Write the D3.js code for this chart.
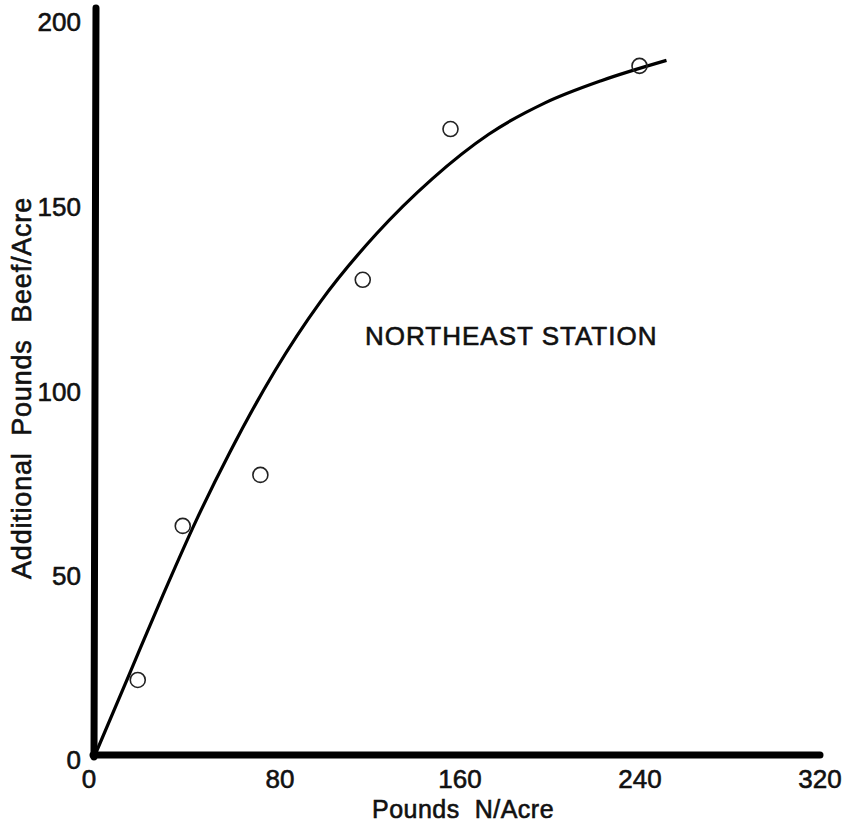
<!DOCTYPE html>
<html>
<head>
<meta charset="utf-8">
<style>
  body { margin: 0; background: #fff; }
  svg text { font-family: "Liberation Sans", Arial, sans-serif; fill: #111; stroke: #111; stroke-width: 0.6px; }
</style>
</head>
<body>
<svg id="chart"></svg>
<script src="https://d3js.org/d3.v7.min.js"></script>
<script>
  // observed points (lb N/acre, additional lb beef/acre)
  const obsN = [19, 39, 73.5, 119, 158, 242];
  const obsBeef = [20.3, 62, 75.8, 128.6, 169.4, 186.5];

  // fitted response curve
  const curveN = [0, 15, 30, 45, 60, 80, 100, 125, 150, 175, 200, 225, 254];
  const curveBeef = [0, 21.5, 43, 63.5, 82, 104, 122.5, 141, 156, 168, 176.5, 182.5, 188];

  const xTicks = [0, 80, 160, 240, 320];
  const yTicks = [0, 50, 100, 150, 200];

  const width = 849, height = 825;

  const svg = d3.select('#chart')
      .attr('width', width)
      .attr('height', height);

  const x = d3.scaleLinear().domain([0, 320]).range([95, 815]);
  const y = d3.scaleLinear().domain([0, 200]).range([755, 16]);

  // axes drawn as heavy lines
  svg.append('line')
      .attr('x1', x(0) - 2).attr('x2', x(320) + 5)
      .attr('y1', y(0)).attr('y2', y(0))
      .attr('stroke', '#000').attr('stroke-width', 7).attr('stroke-linecap', 'round');
  svg.append('line')
      .attr('x1', x(0) - 1).attr('x2', x(0) + 1)
      .attr('y1', y(0) + 2).attr('y2', y(200) - 8)
      .attr('stroke', '#000').attr('stroke-width', 7).attr('stroke-linecap', 'round');

  // tick labels
  svg.append('g').selectAll('text')
      .data(xTicks)
      .join('text')
      .attr('x', d => d === 0 ? x(d) - 6 : x(d) + 5)
      .attr('y', 788)
      .attr('text-anchor', 'middle')
      .style('font-size', '26px')
      .text(d => d);

  svg.append('g').selectAll('text')
      .data(yTicks)
      .join('text')
      .attr('x', 81)
      .attr('y', d => y(d) + (d === 0 ? 14 : 15))
      .attr('text-anchor', 'end')
      .style('font-size', '26px')
      .text(d => d);

  // axis titles
  svg.append('text')
      .attr('x', 463).attr('y', 818)
      .attr('text-anchor', 'middle')
      .style('font-size', '25px')
      .style('letter-spacing', '0.5px')
      .style('white-space', 'pre')
      .text('Pounds  N/Acre');

  svg.append('text')
      .attr('transform', 'translate(31,388) rotate(-90)')
      .attr('text-anchor', 'middle')
      .style('font-size', '27px')
      .style('letter-spacing', '0.8px')
      .style('white-space', 'pre')
      .text('Additional  Pounds  Beef/Acre');

  svg.append('text')
      .attr('x', 365).attr('y', 345)
      .style('font-size', '26px')
      .style('letter-spacing', '1px')
      .text('NORTHEAST STATION');

  // response curve
  const curvePts = curveN.map((n, i) => [n, curveBeef[i]]);
  const line = d3.line()
      .x(d => x(d[0]))
      .y(d => y(d[1]))
      .curve(d3.curveMonotoneX);

  svg.append('path')
      .datum(curvePts)
      .attr('fill', 'none')
      .attr('stroke', '#000')
      .attr('stroke-width', 3.2)
      .attr('d', line);

  // observed points
  const pts = obsN.map((n, i) => ({ n: n, beef: obsBeef[i] }));
  svg.append('g').selectAll('circle')
      .data(pts)
      .join('circle')
      .attr('cx', d => x(d.n))
      .attr('cy', d => y(d.beef))
      .attr('r', 7.5)
      .attr('fill', 'none')
      .attr('stroke', '#222')
      .attr('stroke-width', 1.6);
</script>
</body>
</html>
